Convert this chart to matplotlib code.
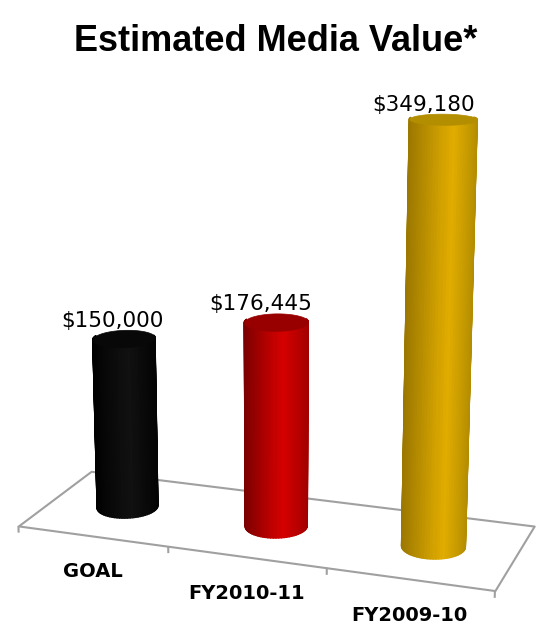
import numpy as np
import matplotlib.pyplot as plt
from mpl_toolkits.mplot3d.art3d import Poly3DCollection, Line3DCollection

categories = ['GOAL', 'FY2010-11', 'FY2009-10']
values = [150000, 176445, 349180]
value_labels = ['$150,000', '$176,445', '$349,180']

# (left edge, highlight, right edge, top) colour per cylinder
palettes = [
    ('#000000', '#111111', '#040404', '#080808'),
    ('#7a0000', '#d60000', '#a20000', '#980000'),
    ('#9c7800', '#e2ad00', '#b28c00', '#b38f00'),
]

ELEV, AZIM = 15, -70.5
RADIUS = 0.19
DEPTH = 1.0
ZMAX = 360000


def hex_rgb(h):
    h = h.lstrip('#')
    return np.array([int(h[i:i + 2], 16) / 255 for i in (0, 2, 4)])


def side_colours(theta, pal):
    # brightness by where the facet sits across the cylinder as seen on screen
    az = np.radians(AZIM)
    right = np.array([-np.sin(az), np.cos(az)])
    u = np.cos(theta) * right[0] + np.sin(theta) * right[1]
    stops = [-1.0, 0.2, 1.0]
    cols = [hex_rgb(pal[0]), hex_rgb(pal[1]), hex_rgb(pal[2])]
    out = np.zeros((len(u), 3))
    for ch in range(3):
        out[:, ch] = np.interp(u, stops, [c[ch] for c in cols])
    return out


fig = plt.figure(figsize=(5.38, 6.25), dpi=100)
ax = fig.add_axes([0.0, -0.02, 1.0, 1.0], projection='3d', computed_zorder=False)
ax.set_proj_type('persp', focal_length=0.65)
ax.view_init(elev=ELEV, azim=AZIM)
ax.set_xlim(0, 3)
ax.set_ylim(0, DEPTH)
ax.set_zlim(0, ZMAX)
ax.set_box_aspect((3, DEPTH * 1.06, 2.66), zoom=1.25)
ax.set_xticks([])
ax.set_yticks([])
ax.set_zticks([])
for a in (ax.xaxis, ax.yaxis, ax.zaxis):
    a.label.set_visible(False)
    a.offsetText.set_visible(False)
ax.set_axis_off()

# floor
floor = Poly3DCollection([[(0, 0, 0), (3, 0, 0), (3, DEPTH, 0), (0, DEPTH, 0)]],
                         facecolor='white', edgecolor='#a0a0a0', linewidth=1.5)
floor.set_zorder(1)
floor.set_clip_on(False)
ax.add_collection3d(floor)
ticks = [[(i, 0, 0), (i, 0, -6000)] for i in range(len(categories) + 1)]
tick_lines = Line3DCollection(ticks, colors='#a0a0a0', linewidths=1.5, zorder=1)
tick_lines.set_clip_on(False)
ax.add_collection3d(tick_lines)

n = 72
theta = np.linspace(0, 2 * np.pi, n + 1)
az = np.radians(AZIM)
for i, (val, pal) in enumerate(zip(values, palettes)):
    xc, yc = i + 0.5, DEPTH / 2
    polys = []
    mids = []
    for k in range(n):
        t0, t1 = theta[k], theta[k + 1]
        tm = (t0 + t1) / 2
        # skip facets turned away from the viewer
        if np.cos(tm) * np.cos(az) + np.sin(tm) * np.sin(az) < -0.35:
            continue
        polys.append([
            (xc + RADIUS * np.cos(t0), yc + RADIUS * np.sin(t0), 0),
            (xc + RADIUS * np.cos(t1), yc + RADIUS * np.sin(t1), 0),
            (xc + RADIUS * np.cos(t1), yc + RADIUS * np.sin(t1), val),
            (xc + RADIUS * np.cos(t0), yc + RADIUS * np.sin(t0), val),
        ])
        mids.append(tm)
    fc = side_colours(np.array(mids), pal)
    side = Poly3DCollection(polys, facecolors=fc, edgecolors=fc, linewidths=1.0)
    side.set_zorder(2 + i * 2)
    side.set_clip_on(False)
    ax.add_collection3d(side)
    top = Poly3DCollection([[(xc + RADIUS * np.cos(t), yc + RADIUS * np.sin(t), val)
                             for t in theta[:-1]]],
                           facecolor=pal[3], edgecolor=pal[3], linewidth=0.5)
    top.set_zorder(3 + i * 2)
    top.set_clip_on(False)
    ax.add_collection3d(top)
    ax.text(xc - 0.17, yc + RADIUS, val + 1000, value_labels[i], ha='center',
            va='baseline', fontsize=15.5, color='black', zorder=10)
    ax.text(xc, 0, -23000, categories[i], ha='center', va='top',
            fontsize=14, fontweight='bold', color='black', zorder=10)

fig.text(0.512, 0.962, 'Estimated Media Value*', ha='center', va='top',
         fontsize=26, fontweight='bold', family='Liberation Sans')

fig.savefig('out.png', dpi=100)
